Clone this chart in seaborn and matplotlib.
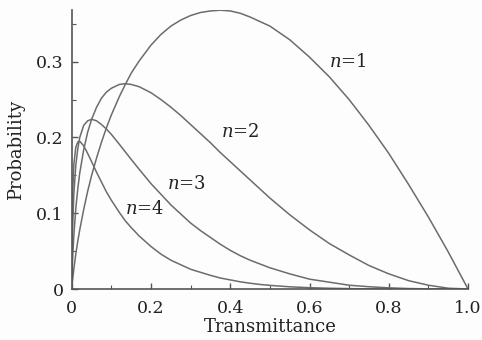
import numpy as np
import pandas as pd
import matplotlib
matplotlib.use("Agg")
import matplotlib.pyplot as plt
import seaborn as sns
from matplotlib.ticker import MultipleLocator, FixedLocator, FixedFormatter

# transmittance sample points and the probability curves
trans = [0, 0.0005, 0.001, 0.002, 0.005, 0.01, 0.015, 0.02, 0.03, 0.04, 0.05, 0.0625,
         0.075, 0.0875, 0.1, 0.12, 0.135, 0.15, 0.17, 0.2, 0.225, 0.25, 0.275, 0.3,
         0.325, 0.35, 0.375, 0.4, 0.425, 0.45, 0.475, 0.5, 0.55, 0.6, 0.65, 0.7, 0.75,
         0.8, 0.85, 0.9, 0.95, 1.0]
p_n1 = [0, 0.004, 0.007, 0.012, 0.026, 0.046, 0.063, 0.078, 0.105, 0.129, 0.150, 0.173,
        0.194, 0.213, 0.230, 0.254, 0.270, 0.285, 0.301, 0.322, 0.336, 0.347, 0.355, 0.361,
        0.365, 0.367, 0.368, 0.367, 0.364, 0.359, 0.353, 0.347, 0.329, 0.306, 0.280, 0.250, 0.216,
        0.179, 0.138, 0.095, 0.049, 0]
p_n2 = [0, 0.014, 0.024, 0.039, 0.070, 0.106, 0.132, 0.153, 0.184, 0.207, 0.224, 0.240,
        0.252, 0.260, 0.265, 0.270, 0.271, 0.270, 0.267, 0.259, 0.250, 0.240, 0.229, 0.217,
        0.205, 0.193, 0.180, 0.168, 0.156, 0.144, 0.132, 0.120, 0.098, 0.078, 0.060, 0.045, 0.031,
        0.020, 0.011, 0.005, 0.001, 0]
p_n3 = [0, 0.037, 0.055, 0.080, 0.124, 0.163, 0.185, 0.200, 0.216, 0.222, 0.224, 0.222,
        0.217, 0.211, 0.204, 0.191, 0.181, 0.171, 0.158, 0.139, 0.125, 0.111, 0.099, 0.087,
        0.077, 0.068, 0.059, 0.051, 0.044, 0.038, 0.033, 0.028, 0.020, 0.013, 0.009, 0.005, 0.003,
        0.0015, 0.0006, 0.0002, 0, 0]
p_n4 = [0, 0.070, 0.095, 0.124, 0.164, 0.187, 0.194, 0.195, 0.189, 0.179, 0.168, 0.154,
        0.141, 0.128, 0.117, 0.101, 0.090, 0.081, 0.070, 0.056, 0.046, 0.038, 0.032, 0.026,
        0.022, 0.018, 0.0145, 0.012, 0.0095, 0.0076, 0.006, 0.0048, 0.0029, 0.0017, 0.001, 0.0005, 0.0002,
        0.0001, 0, 0, 0, 0]

labels = ["n=1", "n=2", "n=3", "n=4"]
label_pos = [(0.65, 0.30), (0.377, 0.207), (0.241, 0.138), (0.133, 0.105)]

df = pd.DataFrame({
    "T": trans * 4,
    "P": p_n1 + p_n2 + p_n3 + p_n4,
    "n": sum([[lab] * len(trans) for lab in labels], []),
})

sns.set_style("ticks")
plt.rcParams["font.family"] = ["DejaVu Serif"]
plt.rcParams["mathtext.fontset"] = "dejavuserif"

fig = plt.figure(figsize=(4.82, 3.40), dpi=100)
fig.patch.set_facecolor("#fdfdfd")
ax = fig.add_axes([0.149, 0.15, 0.822, 0.82])
ax.set_facecolor("#fdfdfd")

sns.lineplot(data=df, x="T", y="P", hue="n", palette=["#6c6c6c"] * 4,
             linewidth=1.1, legend=False, ax=ax, estimator=None, sort=False)

for lab, (x, y) in zip(labels, label_pos):
    ax.text(x, y, "$n$=" + lab[2:], fontsize=13, va="center", ha="left", color="#222222")

ax.set_xlim(0, 1.0)
ax.set_ylim(0, 0.368)
ax.xaxis.set_major_locator(FixedLocator([0, 0.2, 0.4, 0.6, 0.8, 1.0]))
ax.xaxis.set_major_formatter(FixedFormatter(["0", "0.2", "0.4", "0.6", "0.8", "1.0"]))
ax.xaxis.set_minor_locator(MultipleLocator(0.1))
ax.yaxis.set_major_locator(FixedLocator([0, 0.1, 0.2, 0.3]))
ax.yaxis.set_major_formatter(FixedFormatter(["0", "0.1", "0.2", "0.3"]))
ax.yaxis.set_minor_locator(MultipleLocator(0.05))
ax.tick_params(which="both", direction="in", color="#555555", labelsize=12.5,
               labelcolor="#222222")
ax.tick_params(which="major", length=4, width=1)
ax.tick_params(which="minor", length=3, width=0.8)
ax.tick_params(axis="x", which="major", pad=8)
ax.tick_params(axis="y", which="major", pad=6)
sns.despine(ax=ax)
for s in ["left", "bottom"]:
    ax.spines[s].set_color("#555555")
    ax.spines[s].set_linewidth(1.2)

ax.set_xlabel("Transmittance", fontsize=13, color="#222222", labelpad=1)
ax.set_ylabel("Probability", fontsize=13, color="#222222", labelpad=8)

fig.savefig("out.png", dpi=100, facecolor=fig.get_facecolor())
